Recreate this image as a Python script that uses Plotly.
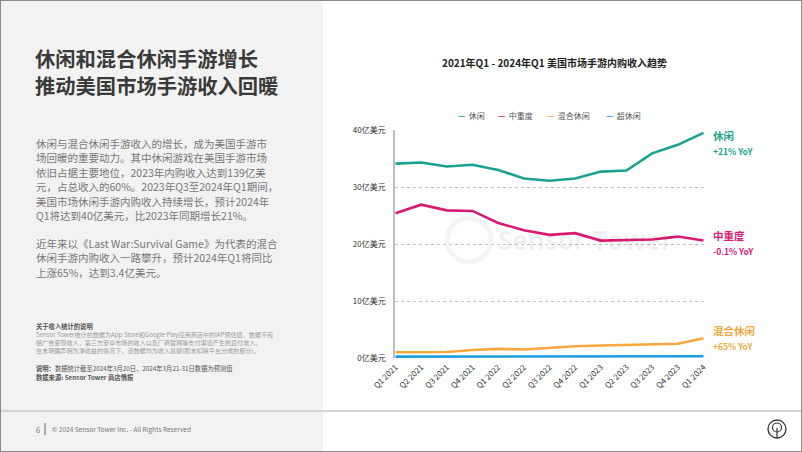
import plotly.graph_objects as go

quarters = ["Q1 2021", "Q2 2021", "Q3 2021", "Q4 2021", "Q1 2022", "Q2 2022", "Q3 2022",
            "Q4 2022", "Q1 2023", "Q2 2023", "Q3 2023", "Q4 2023", "Q1 2024"]
casual = [34.1, 34.3, 33.6, 33.9, 33.0, 31.5, 31.1, 31.5, 32.7, 32.9, 35.9, 37.4, 39.5]
midcore = [25.4, 26.9, 25.9, 25.8, 23.7, 22.4, 21.6, 21.9, 20.6, 20.7, 20.8, 21.3, 20.6]
hybrid = [1.0, 1.0, 1.05, 1.4, 1.6, 1.5, 1.8, 2.05, 2.2, 2.3, 2.45, 2.5, 3.45]
hyper = [0.25, 0.25, 0.25, 0.25, 0.25, 0.25, 0.25, 0.25, 0.25, 0.25, 0.25, 0.25, 0.3]
series_names = ["休闲", "中重度", "混合休闲", "超休闲"]
series_colors = ["#1aa190", "#d81b72", "#f6a83e", "#1b9de2"]
ytick_vals = [0, 10, 20, 30, 40]
ytick_text = ["0亿美元", "10亿美元", "20亿美元", "30亿美元", "40亿美元"]
end_labels = [("休闲", "+21% YoY"), ("中重度", "-0.1% YoY"), ("混合休闲", "+65% YoY")]

W, H = 802, 452
FONT = "Noto Sans CJK SC"


def px(x):
    return x / W


def py(y):
    return 1 - y / H


fig = go.Figure()
for name, vals, col in zip(series_names, [casual, midcore, hybrid, hyper], series_colors):
    fig.add_trace(go.Scatter(x=quarters, y=vals, mode="lines", name=name,
                             line=dict(color=col, width=2.6), showlegend=False, hoverinfo="skip"))

shapes = []
# left grey panel
shapes.append(dict(type="rect", xref="paper", yref="paper", x0=0, x1=px(323), y0=0, y1=1,
                   fillcolor="#f2f2f2", line=dict(width=0), layer="below"))
# footer separator
shapes.append(dict(type="line", xref="paper", yref="paper", x0=0, x1=1, y0=py(411), y1=py(411),
                   line=dict(color="#c8c8c8", width=1.5)))
# footer small vertical bar
shapes.append(dict(type="line", xref="paper", yref="paper", x0=px(45), x1=px(45), y0=py(423), y1=py(435),
                   line=dict(color="#666666", width=1)))
# footer icon
shapes.append(dict(type="circle", xref="paper", yref="paper", x0=px(768), x1=px(786), y0=py(438), y1=py(420),
                   line=dict(color="#333333", width=1.3)))
shapes.append(dict(type="circle", xref="paper", yref="paper", x0=px(772.5), x1=px(781.5), y0=py(432), y1=py(423),
                   line=dict(color="#333333", width=1.2)))
shapes.append(dict(type="line", xref="paper", yref="paper", x0=px(777), x1=px(777), y0=py(428), y1=py(438),
                   line=dict(color="#333333", width=1.2)))
# watermark circle
shapes.append(dict(type="circle", xref="paper", yref="paper", x0=px(447), x1=px(491), y0=py(262), y1=py(218),
                   line=dict(color="rgba(0,0,0,0.045)", width=5), layer="below"))
# outer frame
shapes.append(dict(type="rect", xref="paper", yref="paper", x0=0, x1=1, y0=0, y1=1,
                   line=dict(color="#8a8a8a", width=2)))

ann = []


def text(x, y, s, size, color, bold=False, xanchor="left", yanchor="middle", family=FONT):
    ann.append(dict(xref="paper", yref="paper", x=px(x), y=py(y), text=(f"<b>{s}</b>" if bold else s),
                    showarrow=False, xanchor=xanchor, yanchor=yanchor, align="left",
                    font=dict(family=family, size=size, color=color)))


def block(x, y_first, lines, base_size, inner_size, color, bold=False):
    """Multi-line text; line pitch = 1.3 * base_size, glyphs at inner_size."""
    pitch = 1.3 * base_size
    body = "<br>".join(f"<span style='font-size:{inner_size}px'>{ln}</span>" for ln in lines)
    y_center = y_first + pitch * (len(lines) - 1) / 2
    text(x, y_center, body, base_size, color, bold=bold)


# headline
block(33, 57.5, ["休闲和混合休闲手游增长", "推动美国市场手游收入回暖"], 20.8, 20.3, "#3a3a3a", bold=True)

para1 = ["休闲与混合休闲手游收入的增长，成为美国手游市",
         "场回暖的重要动力。其中休闲游戏在美国手游市场",
         "依旧占据主要地位，2023年内购收入达到139亿美",
         "元，占总收入的60%。2023年Q3至2024年Q1期间，",
         "美国市场休闲手游内购收入持续增长，预计2024年",
         "Q1将达到40亿美元，比2023年同期增长21%。"]
para2 = ["近年来以《Last War:Survival Game》为代表的混合",
         "休闲手游内购收入一路攀升，预计2024年Q1将同比",
         "上涨65%，达到3.4亿美元。"]
block(34, 143, para1, 11.15, 10.5, "#777777")
block(34, 243.5, para2, 11.15, 10.5, "#777777")

notes = ["Sensor Tower统计的数据为App Store和Google Play应用商店中的IAP预估值，数据不包",
         "括广告变现收入，第三方安卓市场的收入以及厂商官网等支付渠道产生的直付收入。",
         "在未明确声明为净收益的情况下，该数据均为收入总额(即未扣除平台分成的部分)。"]
text(34, 326.5, "关于收入统计的说明", 6.3, "#555555", bold=True)
block(34, 334.5, notes, 6.1, 6.1, "#9a9a9a")
block(34, 369, ["<b>说明：</b>数据统计截至2024年3月20日，2024年3月21-31日数据为预测值",
                "<b>数据来源: Sensor Tower 商店情报</b>"], 6.9, 6.3, "#555555")

# footer
text(34, 429, "6", 7.5, "#777777")
text(50, 429, "© 2024 Sensor Tower Inc. - All Rights Reserved", 6.5, "#777777")

# chart title
text(554, 63, "2021年Q1 - 2024年Q1 美国市场手游内购收入趋势", 10, "#222222", bold=True, xanchor="center")

# legend
leg_x = [456, 496, 545, 604]
for x, name, col in zip(leg_x, series_names, series_colors):
    text(x, 115, f"<span style='color:{col}'><b>—</b></span>  {name}", 8, "#555555")

# watermark text
text(496, 240, "Sensor Tower", 26, "rgba(0,0,0,0.06)", bold=True, family="Open Sans")

# end labels (name + YoY in one block)
end_y = [135, 235, 330]
for (n, yoy), y1, col in zip(end_labels, end_y, series_colors):
    ann.append(dict(xref="paper", yref="paper", x=px(711), y=py(y1 + 7.3), showarrow=False,
                    xanchor="left", yanchor="middle", align="left",
                    text=f"<b><span style='font-size:10.5px'>{n}</span><br>"
                         f"<span style='font-size:8.5px'>{yoy}</span></b>",
                    font=dict(family=FONT, size=11.3, color=col)))

fig.update_layout(
    width=W, height=H,
    margin=dict(l=0, r=0, t=0, b=0, autoexpand=False),
    paper_bgcolor="white", plot_bgcolor="white",
    shapes=shapes, annotations=ann,
    font=dict(family=FONT),
    xaxis=dict(domain=[px(395), px(704)], range=[-0.02, 12.02], type="category", automargin=False,
               showgrid=False, showline=False, zeroline=False, tickangle=-45,
               tickfont=dict(size=8, color="#333333"), ticks="", ticklabelstandoff=2),
    yaxis=dict(domain=[py(358), py(130)], range=[0, 40], tickvals=ytick_vals, ticktext=ytick_text,
               automargin=False,
               showgrid=True, gridcolor="#c4c4c4", griddash="dot", gridwidth=1,
               showline=True, linecolor="#bdbdbd", linewidth=1.5, zeroline=False,
               tickfont=dict(size=8, color="#333333"), ticks="", ticklabelstandoff=6),
)

fig.write_html("out.html", config={"displayModeBar": False},
               post_script="document.body.style.margin='0';document.body.style.overflow='hidden';")
